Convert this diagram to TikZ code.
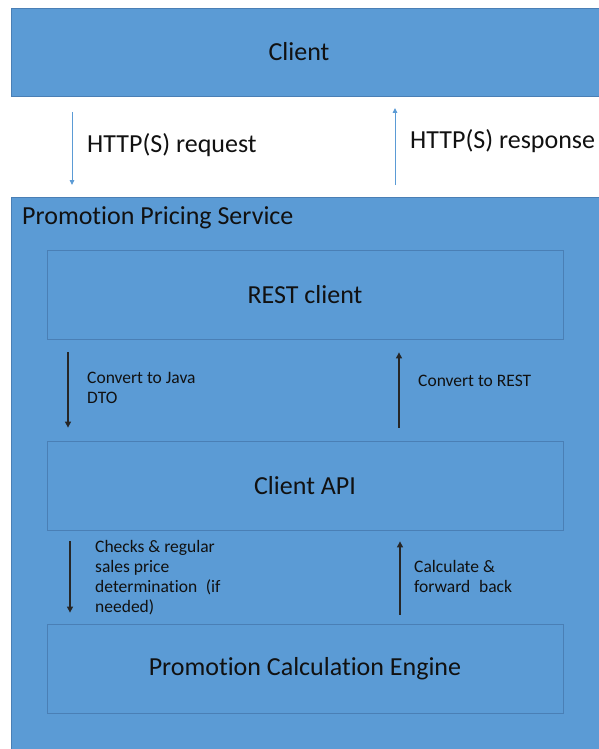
\documentclass[tikz,border=0pt]{standalone}
\usepackage{fontspec}
\setmainfont{Carlito}[Ligatures={NoCommon,NoContextual}]
\usetikzlibrary{arrows.meta}
\definecolor{boxblue}{HTML}{5B9BD5}
\definecolor{edgeblue}{HTML}{4A7FB5}
\definecolor{txt}{HTML}{111111}
\tikzset{
  bigbox/.style={draw=edgeblue,line width=0.8pt,fill=boxblue,minimum width=516pt,minimum height=89pt,inner sep=0pt,font=\fontsize{26}{30}\selectfont,text=txt},
  outerbox/.style={draw=edgeblue,line width=0.8pt,fill=boxblue,inner sep=0pt},
  lbl/.style={anchor=west,inner sep=0pt,text=txt,align=left,font=\fontsize{17.5}{20}\selectfont},
  biglbl/.style={anchor=west,inner sep=0pt,text=txt,font=\fontsize{26}{30}\selectfont},
  blarrow/.style={draw=boxblue,line width=0.9pt,-{Triangle[length=5pt,width=4.5pt]}},
  bkarrow/.style={draw=black!85,line width=1.1pt,-{Triangle[length=6pt,width=6pt]}}
}
\begin{document}
\begin{tikzpicture}[x=1pt,y=-1pt]
\useasboundingbox (0,0) rectangle (598,749);
\fill[white] (0,0) rectangle (598,749);
% Client
\node[outerbox,minimum width=590pt,minimum height=88pt,anchor=north west] (client) at (11,8) {};
\node[biglbl,anchor=center] (clientlbl) at (299,51.5) {Client};
% service
\node[outerbox,minimum width=590pt,minimum height=555pt,anchor=north west] (service) at (11,197) {};
\node[biglbl] (svctitle) at (22,217.5) {Promotion Pricing Service};
% http arrows
\coordinate (req1) at (72,112);
\coordinate (req2) at (72,185);
\coordinate (res1) at (395,185);
\coordinate (res2) at (395,108);
\draw[blarrow] (req1) -- (req2);
\draw[blarrow] (res1) -- (res2);
\node[biglbl] (reqlbl) at (87,145) {HTTP(S) request};
\node[biglbl] (reslbl) at (410,141) {HTTP(S) response};
% inner boxes
\node[bigbox] (rest) at (305,294.5) {REST client};
\node[bigbox] (api) at (305,485.5) {Client API};
\node[bigbox] (engine) at (305,668.5) {Promotion Calculation Engine};
% arrows
\draw[bkarrow] ([xshift=-237pt,yshift=-13pt]rest.south) -- ([xshift=-237pt,yshift=13pt]api.north);
\draw[bkarrow] ([xshift=94pt,yshift=13pt]api.north) -- ([xshift=94pt,yshift=-13pt]rest.south);
\draw[bkarrow] ([xshift=-235pt,yshift=-11pt]api.south) -- ([xshift=-235pt,yshift=11pt]engine.north);
\draw[bkarrow] ([xshift=95pt,yshift=9pt]engine.north) -- ([xshift=95pt,yshift=-11pt]api.south);
\node[lbl] (l1) at (87,387.5) {Convert to Java\\DTO};
\node[lbl] (l2) at (418,380.5) {Convert to REST};
\node[lbl] (l3) at (95,577.5) {Checks \& regular\\sales price\\determination\enspace(if\\needed)};
\node[lbl] (l4) at (414,576.5) {Calculate \&\\forward\enspace back};
\end{tikzpicture}
\end{document}
